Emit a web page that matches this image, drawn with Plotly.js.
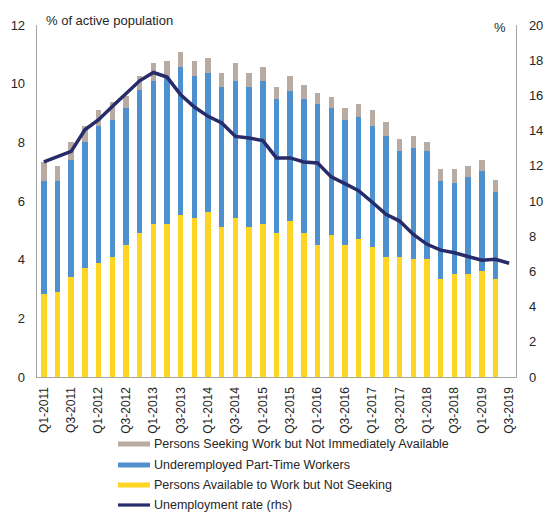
<!DOCTYPE html>
<html>
<head>
<meta charset="utf-8">
<script src="https://cdn.plot.ly/plotly-3.0.1.min.js"></script>
<style>html,body{margin:0;padding:0;background:#fff;}#chart{width:545px;height:512px;}</style>
</head>
<body>
<div id="chart"></div>
<script>
const quarters = ["Q1-2011","Q2-2011","Q3-2011","Q4-2011","Q1-2012","Q2-2012","Q3-2012","Q4-2012",
"Q1-2013","Q2-2013","Q3-2013","Q4-2013","Q1-2014","Q2-2014","Q3-2014","Q4-2014",
"Q1-2015","Q2-2015","Q3-2015","Q4-2015","Q1-2016","Q2-2016","Q3-2016","Q4-2016",
"Q1-2017","Q2-2017","Q3-2017","Q4-2017","Q1-2018","Q2-2018","Q3-2018","Q4-2018",
"Q1-2019","Q2-2019","Q3-2019"];

const availableNotSeeking = [2.82,2.90,3.41,3.70,3.90,4.09,4.49,4.91,5.23,5.23,5.51,5.42,5.62,5.10,5.42,5.10,
5.23,4.91,5.31,4.91,4.49,4.83,4.49,4.70,4.43,4.09,4.09,4.02,4.02,3.33,3.51,3.51,3.62,3.33];
const underemployed = [3.86,3.78,3.99,4.30,4.67,4.67,4.68,4.87,4.85,4.98,5.05,4.85,4.74,4.77,4.66,4.77,
4.85,4.57,4.45,4.57,4.80,4.33,4.27,4.18,4.12,4.12,3.60,3.78,3.67,3.34,3.10,3.30,3.39,2.96];
const seekingNotAvailable = [0.64,0.53,0.60,0.57,0.52,0.60,0.40,0.49,0.61,0.55,0.53,0.49,0.52,0.50,0.61,0.50,
0.48,0.41,0.51,0.49,0.39,0.40,0.40,0.41,0.54,0.47,0.41,0.41,0.31,0.43,0.49,0.40,0.39,0.41];
const unemploymentRate = [12.22,12.54,12.82,14.05,14.62,15.37,16.13,16.83,17.30,17.04,16.03,15.34,14.81,14.43,
13.67,13.58,13.43,12.45,12.45,12.22,12.16,11.37,10.99,10.59,9.93,9.24,8.86,8.10,7.54,7.21,7.06,6.82,6.63,6.69,6.46];

const tickQuarters = quarters.filter((q, i) => i % 2 === 0);

const names = {
  gray: "Persons Seeking Work but Not Immediately Available",
  blue: "Underemployed Part-Time Workers",
  yellow: "Persons Available to Work but Not Seeking",
  line: "Unemployment rate (rhs)"
};
const colors = {gray:"#B8ABA2", blue:"#4F90CE", yellow:"#FFD524", line:"#272B69"};

const barX = quarters.slice(0, availableNotSeeking.length);
const traces = [
  {type:"bar", x:barX, y:availableNotSeeking, name:names.yellow, marker:{color:colors.yellow}, hoverinfo:"y"},
  {type:"bar", x:barX, y:underemployed, name:names.blue, marker:{color:colors.blue}},
  {type:"bar", x:barX, y:seekingNotAvailable, name:names.gray, marker:{color:colors.gray}},
  {type:"scatter", mode:"lines", x:quarters, y:unemploymentRate, yaxis:"y2", name:names.line,
   line:{color:colors.line, width:3.5}}
];

// custom legend (swatches + labels) in paper coordinates
const legendRows = [
  {label:names.gray, color:colors.gray, kind:"bar"},
  {label:names.blue, color:colors.blue, kind:"bar"},
  {label:names.yellow, color:colors.yellow, kind:"bar"},
  {label:names.line, color:colors.line, kind:"line"}
];
const plotTop = 25, plotBottom = 377, plotLeft = 37, plotRight = 516;
const pxToPaperY = Y => (plotBottom - Y) / (plotBottom - plotTop);
const pxToPaperX = X => (X - plotLeft) / (plotRight - plotLeft);
const rowY = [444, 465, 485, 505];
const shapes = [], annotations = [];
legendRows.forEach((r, i) => {
  const yc = rowY[i];
  const h = r.kind === "bar" ? 2.5 : 1.6;
  shapes.push({type:"rect", xref:"paper", yref:"paper",
    x0:pxToPaperX(118), x1:pxToPaperX(150), y0:pxToPaperY(yc + h), y1:pxToPaperY(yc - h),
    fillcolor:r.color, line:{width:0}});
  annotations.push({xref:"paper", yref:"paper", x:pxToPaperX(152), y:pxToPaperY(yc),
    xanchor:"left", yanchor:"middle", showarrow:false, text:r.label,
    font:{size:12.5, color:"#262626"}});
});
annotations.push({xref:"paper", yref:"paper", x:pxToPaperX(44), y:pxToPaperY(20), xanchor:"left", yanchor:"middle",
  showarrow:false, text:"% of active population", font:{size:13, color:"#262626"}});
annotations.push({xref:"paper", yref:"paper", x:pxToPaperX(500), y:pxToPaperY(27), xanchor:"center", yanchor:"middle",
  showarrow:false, text:"%", font:{size:13, color:"#262626"}});

const layout = {
  width:545, height:512,
  margin:{l:plotLeft, r:545-plotRight, t:plotTop, b:512-plotBottom, pad:0},
  paper_bgcolor:"#fff", plot_bgcolor:"#fff",
  font:{family:"Liberation Sans, Arial, sans-serif", size:13, color:"#262626"},
  barmode:"stack", bargap:0.6,
  showlegend:false,
  xaxis:{type:"category", categoryorder:"array", categoryarray:quarters, range:[-0.5, quarters.length-0.5],
    tickmode:"array", tickvals:tickQuarters, ticktext:tickQuarters, tickangle:-90,
    tickfont:{size:12}, showgrid:false, zeroline:false, showline:true, linecolor:"#A6A6A6", linewidth:1.3,
    ticks:"", ticklabelstandoff:4},
  yaxis:{range:[0,12], dtick:2, showgrid:false, zeroline:false, showline:true, linecolor:"#A6A6A6", linewidth:1.3,
    ticks:"", tickfont:{size:13}, ticklabelstandoff:8},
  yaxis2:{range:[0,20], dtick:2, overlaying:"y", side:"right", showgrid:false, zeroline:false, showline:true,
    linecolor:"#A6A6A6", linewidth:1.3, ticks:"", tickfont:{size:13}, ticklabelstandoff:9},
  shapes:shapes, annotations:annotations
};
Plotly.newPlot("chart", traces, layout, {staticPlot:true, displayModeBar:false});
</script>
</body>
</html>
